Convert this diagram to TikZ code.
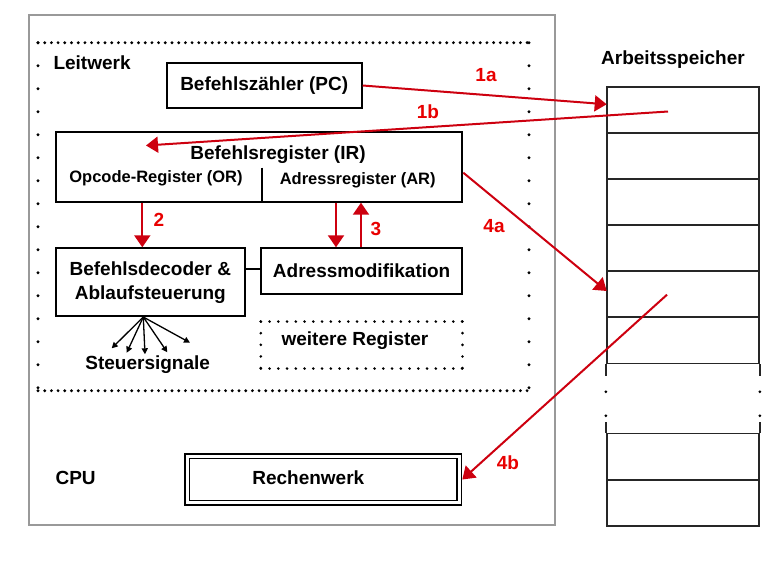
\documentclass[tikz,border=0pt]{standalone}
\usepackage{fontspec}
\setmainfont{Liberation Sans}
\usetikzlibrary{arrows.meta}
\definecolor{arrred}{RGB}{205,0,15}
\definecolor{lblred}{RGB}{232,0,0}
\begin{document}
\begin{tikzpicture}[x=1pt, y=-1pt,
    font=\bfseries\fontsize{19}{24}\selectfont,
    box/.style={draw, line width=2pt, inner sep=0pt},
    small/.style={font=\bfseries\fontsize{16.5}{20}\selectfont},
    redarrow/.style={draw=arrred, line width=2pt, -{Triangle[length=12pt, width=16pt]}},
    redlabel/.style={text=lblred},
    cell/.style={draw=black!85, line width=1.6pt, minimum width=152.3pt, minimum height=46.1pt, inner sep=0pt},
    memline/.style={draw=black!85, line width=1.6pt},
    dotline/.style={line width=3.2pt, line cap=round, dash pattern=on 0pt off #1},
  ]
  \useasboundingbox (0,0) rectangle (776,560);

  % CPU und Leitwerk
  \node[draw=black!40, line width=2pt, minimum width=525.7pt, minimum height=510pt] (cpu) at (291.85,270) {};
  \draw[dotline=6.7pt] (38,42.7) -- (529,42.7);
  \draw[dotline=6.7pt] (38,390.7) -- (529,390.7);
  \draw[dotline=23pt] (38,42.7) -- (38,390.7);
  \draw[dotline=23pt] (529,42.7) -- (529,390.7);
  \node[anchor=west] (lw) at (50,63) {Leitwerk};
  \node[anchor=west] (cpulbl) at (52,478) {CPU};

  \node[box, minimum width=195pt, minimum height=45.6pt] (pc) at (264.2,85.5) {Befehlszähler (PC)};
  \node[box, minimum width=406.6pt, minimum height=70pt] (ir) at (259,166.7) {};
  \node (irt) at (278,154.3) {Befehlsregister (IR)};
  \node[small] (or) at (156,178.5) {Opcode-Register (OR)};
  \node[small] (ar) at (357.7,180) {Adressregister (AR)};
  \draw[line width=2pt] (261.7,167.7) -- (261.7,0 |- ir.south);

  \node[box, minimum width=189.3pt, minimum height=67.7pt, align=center] (dec) at (150.35,282.15) {Befehlsdecoder \&\\Ablaufsteuerung};
  \node[box, minimum width=201.3pt, minimum height=45.7pt] (am) at (361.65,271.15) {Adressmodifikation};
  \draw[line width=2pt] (dec.east |- 0,269.3) -- (am.west |- 0,269.3);

  % weitere Register
  \node[minimum width=201.3pt, minimum height=46.6pt] (wr) at (361.65,345) {};
  \node (wrt) at (355,340.7) {weitere Register};
  \draw[dotline=8.75pt, line width=2.9pt] (wr.north west) -- (wr.north east);
  \draw[dotline=8.75pt, line width=2.9pt] (wr.south west) -- (wr.south east);
  \draw[dotline=11.65pt, line width=2.9pt] (wr.north west) -- (wr.south west);
  \draw[dotline=11.65pt, line width=2.9pt] (wr.north east) -- (wr.south east);

  % Steuersignale
  \coordinate (fan) at (143.3,0 |- dec.south);
  \foreach \x/\y [count=\i] in {111.7/348.3, 126.7/352.7, 145/354.3, 167.3/352.3, 190/342.7} {
    \coordinate (sig\i) at (\x,\y);
    \draw[line width=1.3pt, -{Triangle[length=6pt, width=6pt]}] (fan) -- (sig\i);
  }
  \node (steuer) at (147.7,365) {Steuersignale};

  \node[draw, double, double distance=2.6pt, line width=1.8pt, minimum width=272pt, minimum height=46.4pt, inner sep=0pt, outer sep=3pt] (rw) at (323.3,479.5) {};
  \node (rwt) at (308.3,477.7) {Rechenwerk};

  % Arbeitsspeicher
  \node (mem) at (673,60) {Arbeitsspeicher};
  \foreach \i in {0,...,5}
    \node[cell] (c\i) at (682.85,109.75+46.1*\i) {};
  \node[cell, minimum height=46.7pt] (c6) at (682.85,456.65) {};
  \node[cell] (c7) at (682.85,503) {};
  \foreach \a in {west, east} {
    \draw[memline] (c5.south \a) -- ++(0,11.7);
    \draw[memline] (c6.north \a) -- ++(0,-10.3);
    \fill (c5.south \a) ++(0,27.7) circle (1.5pt);
    \fill (c5.south \a) ++(0,51.7) circle (1.5pt);
  }

  % Pfeile
  \coordinate (m1a) at (606.7,104.3);
  \coordinate (m1b) at (668,111.5);
  \coordinate (ir1b) at (146,145.5);
  \coordinate (m4a) at (606.7,291);
  \coordinate (m4b) at (667,294.7);
  \draw[redarrow] (pc.east) -- (m1a);
  \draw[redarrow] (m1b) -- (ir1b);
  \draw[redarrow] ([yshift=-6pt]ir.east) -- (m4a);
  \draw[redarrow] (m4b) -- (rw.east);
  \draw[redarrow] (142.3,0 |- ir.south) -- (142.3,0 |- dec.north);
  \draw[redarrow] (336,0 |- ir.south) -- (336,0 |- am.north);
  \draw[redarrow] (361,0 |- am.north) -- (361,0 |- ir.south);

  \node[redlabel] (l1a) at (486,75) {1a};
  \node[redlabel] (l1b) at (428,112) {1b};
  \node[redlabel] (l2) at (159,220) {2};
  \node[redlabel] (l3) at (376,229) {3};
  \node[redlabel] (l4a) at (494,226) {4a};
  \node[redlabel] (l4b) at (508,463) {4b};
\end{tikzpicture}
\end{document}
